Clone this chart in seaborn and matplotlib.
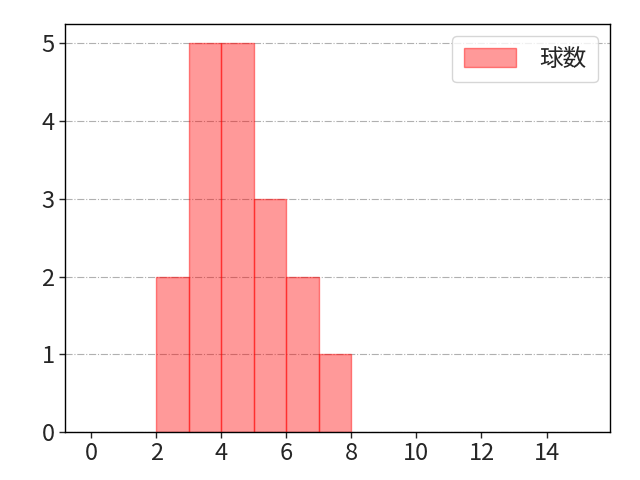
import numpy as np
import pandas as pd
import matplotlib
matplotlib.use("Agg")
import matplotlib.pyplot as plt
import seaborn as sns

# pitch-count histogram: left bin edge -> count
bin_left = [2, 3, 4, 5, 6, 7]
counts = [2, 5, 5, 3, 2, 1]
bin_edges = [2, 3, 4, 5, 6, 7, 8]
label = "球数"

sns.set_style("white")
plt.rcParams['font.family'] = ['Noto Sans CJK JP', 'DejaVu Sans']

df = pd.DataFrame({"pitch": bin_left, "n": counts})

fig, ax = plt.subplots(figsize=(6.4, 4.8), dpi=100)
sns.histplot(data=df, x="pitch", weights="n", bins=bin_edges, ax=ax,
             color="red", alpha=0.4, edgecolor=(1, 0, 0, 0.45), linewidth=1,
             label=label)

ax.set_xlim(-0.8, 15.95)
ax.set_ylim(0, 5.25)
ax.set_xticks(range(0, 15, 2))
ax.set_yticks(range(0, 6))
ax.tick_params(labelsize=17, direction="out", length=4, width=1, left=True, bottom=True)
ax.set_xlabel("")
ax.set_ylabel("")
ax.yaxis.grid(True, linestyle="-.", color="#b0b0b0", linewidth=0.8)
ax.set_axisbelow(True)
for s in ax.spines.values():
    s.set_color("black")
    s.set_linewidth(1)
ax.legend(loc="upper right", fontsize=17, handlelength=2.2, handleheight=0.85,
          handletextpad=1.0, borderpad=0.5)

fig.subplots_adjust(left=65/640, right=610/640, top=1-24/480, bottom=1-432/480)
fig.savefig("out.png", dpi=100)
